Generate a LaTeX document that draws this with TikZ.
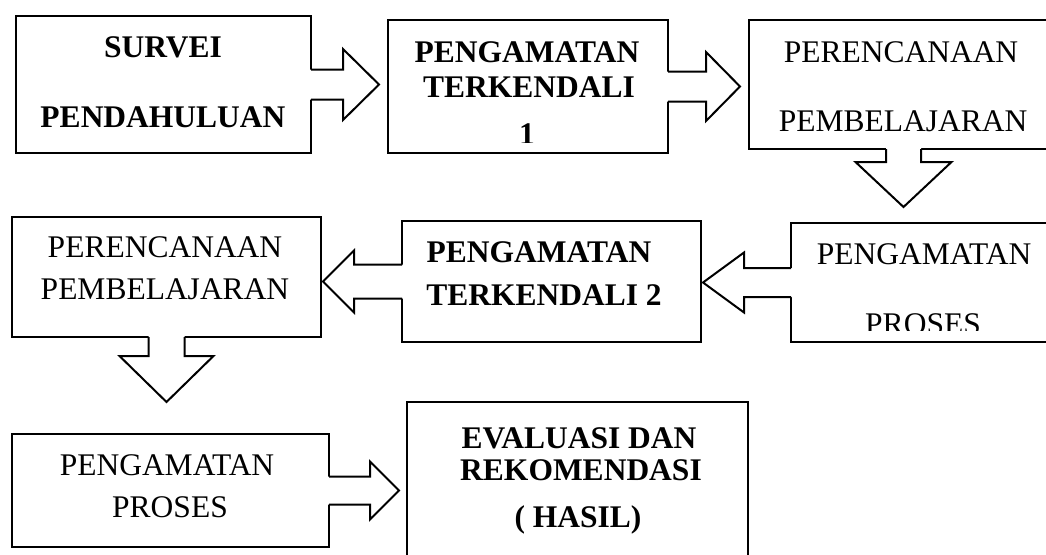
\documentclass[tikz,border=0pt]{standalone}
\usepackage{fontspec}
\setmainfont{Liberation Serif}
\usetikzlibrary{calc}
\newcommand\bigsize{\fontsize{31.5}{36}\selectfont}
% horizontal block arrow: #1 start on source edge, #2 tip point, #3 shaft half, #4 head half, #5 signed head length, #6 signed overlap
\newcommand\harr[6]{%
  \fill[white] let \p1=(#1), \p2=(#2) in
    ({\x1-(#6)},{\y1+#3}) -- ({\x2-(#5)},{\y1+#3}) -- ({\x2-(#5)},{\y1+#4}) -- (\x2,\y1)
    -- ({\x2-(#5)},{\y1-#4}) -- ({\x2-(#5)},{\y1-#3}) -- ({\x1-(#6)},{\y1-#3}) -- cycle;
  \draw[blockline] let \p1=(#1), \p2=(#2) in
    (\x1,{\y1+#3}) -- ({\x2-(#5)},{\y1+#3}) -- ({\x2-(#5)},{\y1+#4}) -- (\x2,\y1)
    -- ({\x2-(#5)},{\y1-#4}) -- ({\x2-(#5)},{\y1-#3}) -- (\x1,{\y1-#3});
}
% downward block arrow: #1 start on source edge, #2 tip point, #3 shaft half, #4 head half, #5 head length
\newcommand\darr[5]{%
  \fill[white] let \p1=(#1), \p2=(#2) in
    ({\x1-#3},{\y1+2pt}) -- ({\x1-#3},{\y2+#5}) -- ({\x1-#4},{\y2+#5}) -- (\x1,\y2)
    -- ({\x1+#4},{\y2+#5}) -- ({\x1+#3},{\y2+#5}) -- ({\x1+#3},{\y1+2pt}) -- cycle;
  \draw[blockline] let \p1=(#1), \p2=(#2) in
    ({\x1-#3},\y1) -- ({\x1-#3},{\y2+#5}) -- ({\x1-#4},{\y2+#5}) -- (\x1,\y2)
    -- ({\x1+#4},{\y2+#5}) -- ({\x1+#3},{\y2+#5}) -- ({\x1+#3},\y1);
}
\tikzset{
  box/.style={draw, line width=2pt, rectangle, inner sep=0pt, outer sep=0pt, anchor=north west},
  blockline/.style={line width=2pt, line join=miter},
  lbl/.style={anchor=base, inner sep=0pt, font=\bigsize},
  blbl/.style={anchor=base, inner sep=0pt, font=\bigsize\bfseries},
}
\begin{document}
\begin{tikzpicture}[x=1pt,y=-1pt]
\useasboundingbox (0,0) rectangle (1046,554);
\clip (0,0) rectangle (1046,554);
\fill[white] (0,0) rectangle (1046,554);

% boxes
\node[box, minimum width=295pt, minimum height=137pt] (b1) at (16,16) {};
\node[box, minimum width=280pt, minimum height=133pt] (b2) at (388,20) {};
\node[box, minimum width=321pt, minimum height=129pt] (b3) at (749,20) {};
\node[box, minimum width=309pt, minimum height=120pt] (b4) at (12,217) {};
\node[box, minimum width=299pt, minimum height=121pt] (b5) at (402,221) {};
\node[box, minimum width=279pt, minimum height=119pt] (b6) at (791,223) {};
\node[box, minimum width=317pt, minimum height=113pt] (b7) at (12,434) {};
\node[box, minimum width=341pt, minimum height=178pt] (b8) at (407,402) {};

% tip and start coordinates
\coordinate (s1) at (b1.east);
\coordinate (e1) at ($(b2.west)+(-9,0)$);
\coordinate (s2) at (b2.east);
\coordinate (e2) at ($(b3.west)+(-9,0)$);
\coordinate (s3) at ($(b3.south west)+(154.5,0)$);
\coordinate (e3) at ($(b6.north)+(0,-16)$);
\coordinate (s4) at (b6.west);
\coordinate (e4) at ($(b5.east)+(2,0)$);
\coordinate (s5) at (b5.west);
\coordinate (e5) at ($(b4.east)+(2,0)$);
\coordinate (s6) at (b4.south);
\coordinate (e6) at ($(b7.north)+(0,-32)$);
\coordinate (s7) at (b7.east);
\coordinate (e7) at ($(b8.west)+(-8,0)$);

% block arrows
\harr{s1}{e1}{15pt}{35.5pt}{36pt}{2pt}
\harr{s2}{e2}{15pt}{34.5pt}{34pt}{2pt}
\darr{s3}{e3}{17.5pt}{48pt}{45pt}
\harr{s4}{e4}{14.5pt}{30pt}{-41pt}{-2pt}
\harr{s5}{e5}{17pt}{31pt}{-31pt}{-2pt}
\darr{s6}{e6}{18pt}{47pt}{46pt}
\harr{s7}{e7}{14pt}{29pt}{29pt}{2pt}

% texts
\node[blbl] (t1a) at (163,57) {SURVEI};
\node[blbl] (t1b) at (163,127) {PENDAHULUAN};
\node[blbl] (t2a) at (527,62) {PENGAMATAN};
\node[blbl] (t2b) at (529,97) {TERKENDALI};
\begin{scope}
  \clip (400,100) rectangle (660,142);
  \node[blbl] (t2c) at (527,144) {1};
\end{scope}
\node[lbl] (t3a) at (901,62) {PERENCANAAN};
\node[lbl] (t3b) at (903,131) {PEMBELAJARAN};
\node[lbl] (t4a) at (165,257) {PERENCANAAN};
\node[lbl] (t4b) at (165,299) {PEMBELAJARAN};
\node[blbl] (t5a) at (539,262) {PENGAMATAN};
\node[blbl] (t5b) at (544,305) {TERKENDALI 2};
\node[lbl] (t6a) at (924,264) {PENGAMATAN};
\begin{scope}
  \clip (800,290) rectangle (1046,330);
  \node[lbl] (t6b) at (923,334) {PROSES};
\end{scope}
\node[lbl] (t7a) at (167,475) {PENGAMATAN};
\node[lbl] (t7b) at (170,517) {PROSES};
\node[blbl] (t8a) at (579,448) {EVALUASI DAN};
\node[blbl] (t8b) at (581,480) {REKOMENDASI};
\node[blbl] (t8c) at (578,527) {( HASIL)};
\end{tikzpicture}
\end{document}
